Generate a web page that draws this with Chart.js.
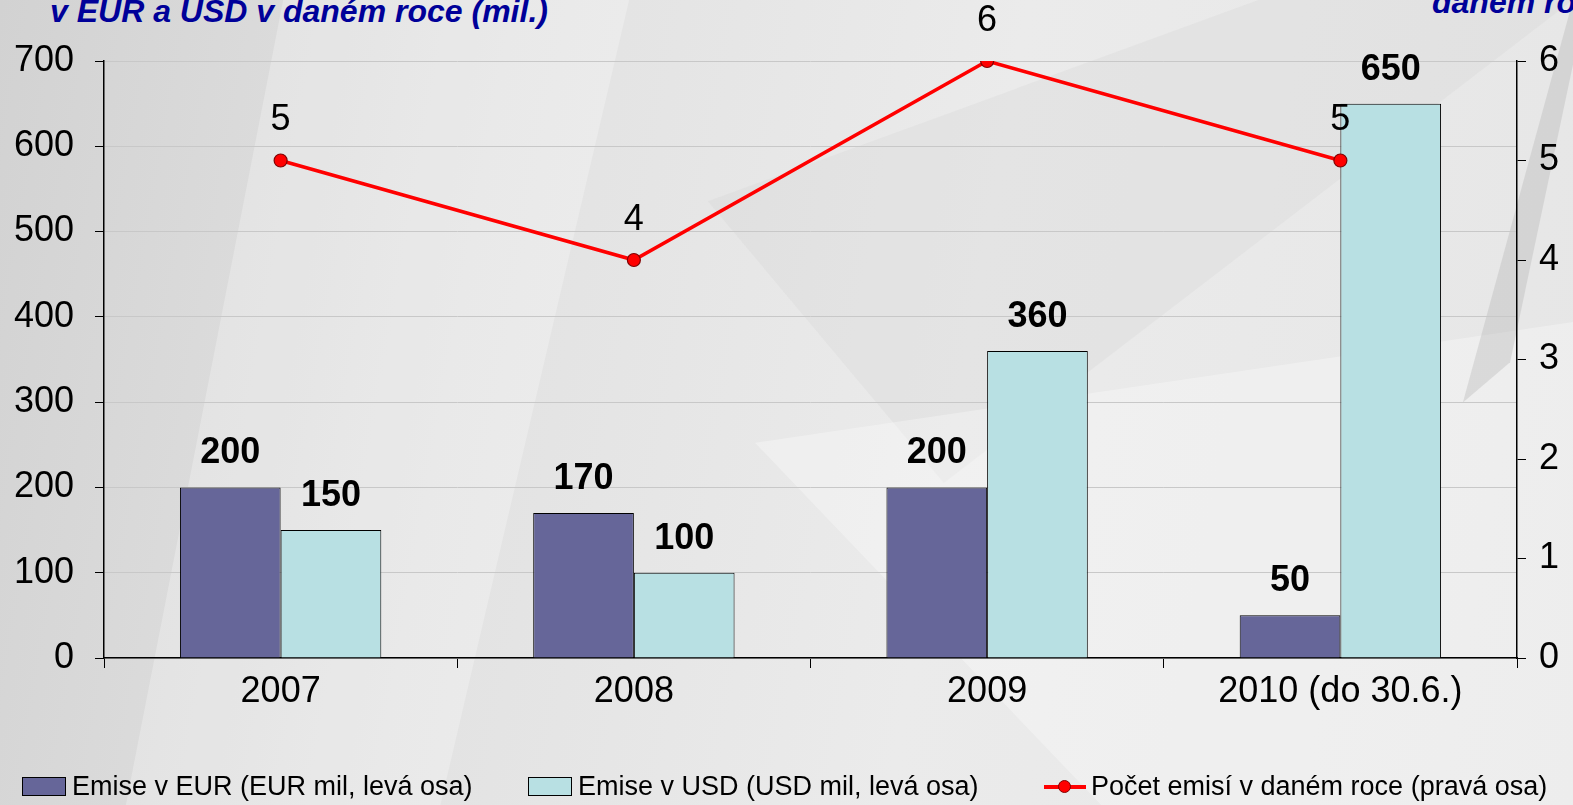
<!DOCTYPE html>
<html><head><meta charset="utf-8">
<script src="https://cdn.jsdelivr.net/npm/chart.js@4"></script>
<style>
html,body{margin:0;padding:0;width:1573px;height:805px;overflow:hidden;}
body{position:relative;background:linear-gradient(100deg,#d2d2d2 0%,#e2e2e2 30%,#ebebeb 60%,#e6e6e6 100%);font-family:"Liberation Sans",Arial,sans-serif;}
.shape{position:absolute;left:0;top:0;width:1573px;height:805px;}
#wrap{position:absolute;left:0;top:0;width:1573px;height:805px;}
.ttl{position:absolute;color:#000099;font-weight:bold;font-style:italic;font-size:32px;white-space:nowrap;line-height:37px;}
#legend{position:absolute;top:770px;left:0;width:1573px;height:32px;font-size:27px;color:#000;}
.li{position:absolute;top:0;height:32px;display:flex;align-items:center;white-space:nowrap;}
.sw{display:inline-block;width:44px;height:19px;border:1.5px solid #000;margin-right:6px;box-sizing:border-box;}
.ln{position:relative;display:inline-block;width:42px;height:19px;margin-right:5px;}
.ln:before{content:"";position:absolute;left:0;right:0;top:8px;height:4px;background:#ff0000;}
.ln:after{content:"";position:absolute;left:14px;top:3px;width:13px;height:13px;border-radius:50%;background:#ff0000;border:1px solid #800000;box-sizing:border-box;}
</style></head>
<body>
<div class="shape" style="background:rgba(255,255,255,0.25);clip-path:polygon(18% 0,40% 0,28% 100%,8% 100%);"></div>
<div class="shape" style="background:rgba(200,200,200,0.18);clip-path:polygon(45% 25%,80% 0,100% 0,60% 60%);"></div>
<div class="shape" style="background:rgba(255,255,255,0.3);clip-path:polygon(48% 55%,100% 40%,100% 100%,70% 100%);"></div>
<div class="shape" style="background:rgba(170,170,170,0.3);clip-path:polygon(93% 50%,100% 0,100% 8%,96% 45%);"></div>
<div class="ttl" style="left:50px;top:-7px;">v EUR a USD v daném roce (mil.)</div>
<div class="ttl" style="left:1432px;top:-16px;">daném roce</div>
<div id="wrap"><canvas id="c" width="1573" height="805"></canvas></div>
<div id="legend">
  <div class="li" style="left:22px;"><span class="sw" style="background:#666699"></span>Emise v EUR (EUR mil, levá osa)</div>
  <div class="li" style="left:528px;"><span class="sw" style="background:#b8e0e3"></span>Emise v USD (USD mil, levá osa)</div>
  <div class="li" style="left:1044px;"><span class="ln"></span>Počet emisí v daném roce (pravá osa)</div>
</div>
<script>
const categories = ["2007", "2008", "2009", "2010 (do 30.6.)"];
const eurValues = [200, 170, 200, 50];
const usdValues = [150, 100, 360, 650];
const countValues = [5, 4, 6, 5];
const leftTicks = [0, 100, 200, 300, 400, 500, 600, 700];
const rightTicks = [0, 1, 2, 3, 4, 5, 6];

const FONT = '"Liberation Sans", Arial, sans-serif';

const labelPlugin = {
  id: 'labels',
  afterDatasetsDraw(chart) {
    const ctx = chart.ctx;
    ctx.save();
    ctx.fillStyle = '#000';
    ctx.textAlign = 'center';
    ctx.textBaseline = 'middle';
    chart.data.datasets.forEach((ds, i) => {
      const meta = chart.getDatasetMeta(i);
      meta.data.forEach((el, j) => {
        if (ds.type === 'line') {
          ctx.font = '36px ' + FONT;
          ctx.fillText(String(ds.data[j]), el.x, el.y - 40);
        } else {
          ctx.font = 'bold 36px ' + FONT;
          ctx.fillText(String(ds.data[j]), el.x, el.y - 34);
        }
      });
    });
    ctx.restore();
  }
};

new Chart(document.getElementById('c'), {
  data: {
    labels: categories,
    datasets: [
      { type: 'line', label: 'Počet emisí v daném roce (pravá osa)', data: countValues, yAxisID: 'y2',
        borderColor: '#ff0000', borderWidth: 3.5, pointRadius: 6.5, pointBackgroundColor: '#ff0000',
        pointBorderColor: '#800000', pointBorderWidth: 1.2, tension: 0, order: 0 },
      { type: 'bar', label: 'Emise v EUR (EUR mil, levá osa)', data: eurValues, yAxisID: 'y',
        backgroundColor: '#666699', borderColor: '#000', borderWidth: 1, order: 1,
        categoryPercentage: 0.57, barPercentage: 1 },
      { type: 'bar', label: 'Emise v USD (USD mil, levá osa)', data: usdValues, yAxisID: 'y',
        backgroundColor: '#b8e0e3', borderColor: '#000', borderWidth: 1, order: 1,
        categoryPercentage: 0.57, barPercentage: 1 }
    ]
  },
  options: {
    responsive: false,
    animation: false,
    layout: { padding: { top: 61, left: 0, right: 0, bottom: 0 } },
    plugins: { legend: { display: false }, tooltip: { enabled: false } },
    scales: {
      x: {
        offset: true,
        grid: { offset: true, drawOnChartArea: false, tickLength: 10, tickColor: '#000', color: '#000' },
        border: { color: '#000', width: 1.5 },
        ticks: { font: { size: 36, family: FONT }, color: '#000', padding: 2 },
        afterFit(s) { s.height = 805 - 61 - 597; }
      },
      y: {
        position: 'left', min: 0, max: 700,
        afterBuildTicks(s) { s.ticks = leftTicks.map(v => ({ value: v })); },
        grid: { color: '#c8c8c8', lineWidth: 1, tickLength: 9, tickColor: '#000' },
        border: { color: '#000', width: 1.5 },
        ticks: { font: { size: 36, family: FONT }, color: '#000', padding: 21 },
        afterFit(s) { s.width = 104; }
      },
      y2: {
        position: 'right', min: 0, max: 6,
        afterBuildTicks(s) { s.ticks = rightTicks.map(v => ({ value: v })); },
        grid: { drawOnChartArea: false, tickLength: 9, tickColor: '#000' },
        border: { color: '#000', width: 1.5 },
        ticks: { font: { size: 36, family: FONT }, color: '#000', padding: 13 },
        afterFit(s) { s.width = 1573 - 1517; }
      }
    }
  },
  plugins: [labelPlugin]
});
</script>
</body></html>
